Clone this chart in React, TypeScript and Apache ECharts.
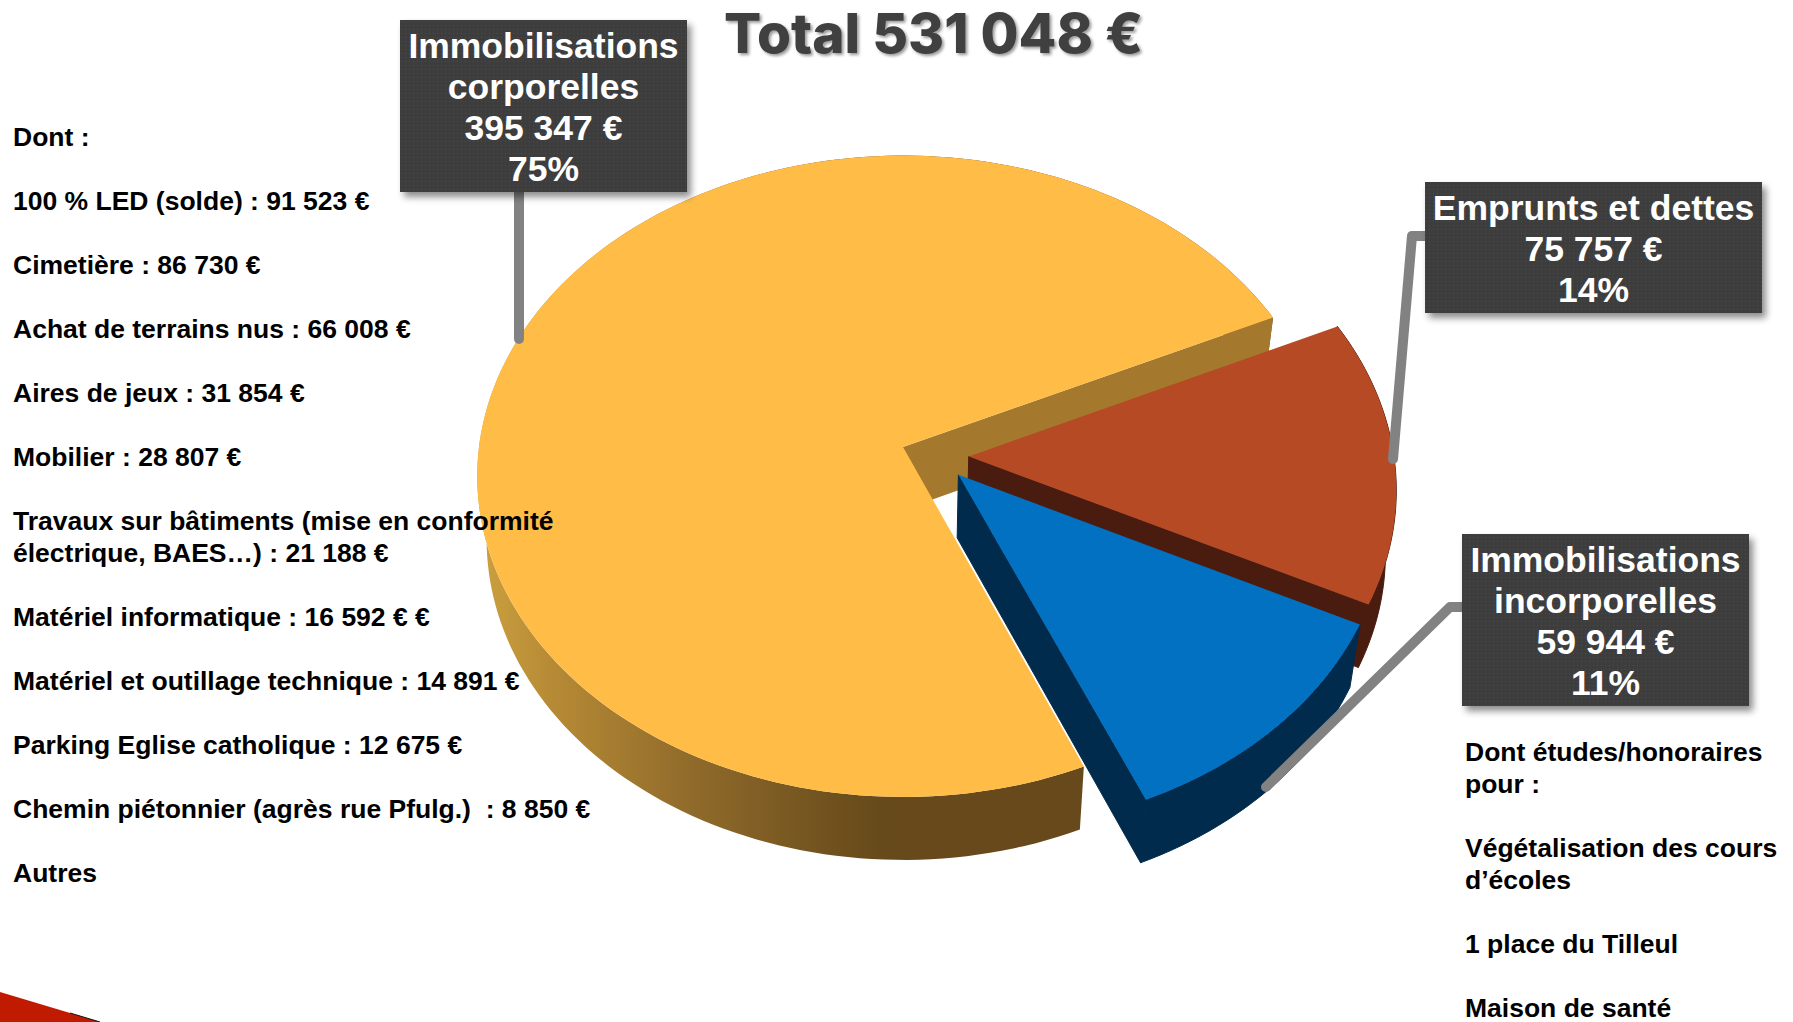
import React, { useEffect, useRef } from "react";
import * as echarts from "echarts";

const sliceNames = ["Immobilisations corporelles", "Emprunts et dettes", "Immobilisations incorporelles"];
const sliceValues = [395347, 75757, 59944];
const titleText = "Total 531 048 €";
const callout1 = ["Immobilisations", "corporelles", "395 347 €", "75%"];
const callout2 = ["Emprunts et dettes", "75 757 €", "14%"];
const callout3 = ["Immobilisations", "incorporelles", "59 944 €", "11%"];
const leftLines = [
  "Dont :", "",
  "100 % LED (solde) : 91 523 €", "",
  "Cimetière : 86 730 €", "",
  "Achat de terrains nus : 66 008 €", "",
  "Aires de jeux : 31 854 €", "",
  "Mobilier : 28 807 €", "",
  "Travaux sur bâtiments (mise en conformité",
  "électrique, BAES…) : 21 188 €", "",
  "Matériel informatique : 16 592 € €", "",
  "Matériel et outillage technique : 14 891 €", "",
  "Parking Eglise catholique : 12 675 €", "",
  "Chemin piétonnier (agrès rue Pfulg.)  : 8 850 €", "",
  "Autres",
];
const rightLines = [
  "Dont études/honoraires", "pour :", "",
  "Végétalisation des cours", "d’écoles", "",
  "1 place du Tilleul", "",
  "Maison de santé",
];

const W = 1793, H = 1022;
const CX = 903, CY = 447, A = 424, B = 318, Q = 0.0912, EXPLODE = 0.08, DEPTH = 63, SHRINK = 0.978;
const START = (67 * Math.PI) / 180;
const TOP = ["#FFBC47", "#B64A25", "#0371C1"];
const RADIAL = ["#A5792D", "#4A1B0F", "#002B4D"];
const OUTER = ["#6A4B1B", "#4A1B0F", "#002B4D"];

const total = sliceValues.reduce((a, b) => a + b, 0);
const angles: number[] = [START];
sliceValues.forEach((v, i) => angles.push(angles[i] + (v / total) * Math.PI * 2));
const firstMid = (angles[0] + angles[1]) / 2;

const project = (u: number, v: number): number[] => {
  const d = 1 - Q * v;
  return [CX + (A * u) / d, CY + (B * v) / d];
};
const lower = (p: number[]): number[] => [CX + (p[0] - CX) * SHRINK, p[1] + DEPTH];

const renderItem = (params: any) => {
  const i = params.dataIndex;
  const a0 = angles[i], a1 = angles[i + 1], mid = (a0 + a1) / 2;
  const ou = EXPLODE * (Math.cos(mid) - Math.cos(firstMid));
  const ov = EXPLODE * (Math.sin(mid) - Math.sin(firstMid));
  const apex = project(ou, ov);
  const steps = Math.max(8, Math.ceil(((a1 - a0) / (Math.PI * 2)) * 240));
  const rim: number[][] = [];
  for (let s = 0; s <= steps; s++) {
    const t = a0 + ((a1 - a0) * s) / steps;
    rim.push(project(ou + Math.cos(t), ov + Math.sin(t)));
  }
  const lowRim = rim.map(lower).reverse();
  const children: any[] = [];
  const outerFill =
    i === 0
      ? new echarts.graphic.LinearGradient(480, 0, 1090, 0, [
          { offset: 0, color: "#CBA03F" },
          { offset: 0.12, color: "#B68A35" },
          { offset: 0.35, color: "#8F6A2A" },
          { offset: 0.6, color: "#6D4F1D" },
          { offset: 0.66, color: "#674A1B" },
          { offset: 1, color: "#67491B" },
        ], true)
      : OUTER[i];
  children.push({
    type: "polygon", shape: { points: rim.concat(lowRim) },
    style: { fill: outerFill, stroke: i === 0 ? "none" : OUTER[i], lineWidth: 1 }, silent: true,
  });
  const wall = (edge: number[]) => ({
    type: "polygon",
    shape: { points: [apex, edge, lower(edge), lower(apex)] },
    style: { fill: RADIAL[i], stroke: i === 0 ? "none" : RADIAL[i], lineWidth: 1 },
    silent: true,
  });
  if (Math.cos(a0) < 0) children.push(wall(rim[0]));
  if (Math.cos(a1) > 0) children.push(wall(rim[rim.length - 1]));
  children.push({ type: "polygon", shape: { points: [apex].concat(rim) }, style: { fill: TOP[i] }, silent: true });
  return { type: "group", children };
};

const makeDots = () => {
  const c = document.createElement("canvas");
  c.width = 4; c.height = 4;
  const g = c.getContext("2d")!;
  g.fillStyle = "#3E3E3E"; g.fillRect(0, 0, 4, 4);
  g.fillStyle = "#4E4E4E"; g.fillRect(1, 1, 1, 1);
  return c.toDataURL();
};

const textLines = (lines: string[], x: number, y0: number) =>
  lines
    .map((t, i) => ({ t, i }))
    .filter((o) => o.t !== "")
    .map((o) => ({
      type: "text", z: 110, silent: true, x, y: y0 + o.i * 32,
      style: { text: o.t, fill: "#000", font: "bold 26.5px 'Liberation Sans'", textAlign: "left", textVerticalAlign: "middle" },
    }));

const box = (x: number, y: number, w: number, h: number, lines: string[], fill: any) => {
  const lh = 41;
  const startY = y + h / 2 - ((lines.length - 1) * lh) / 2 + 1.5;
  return [
    {
      type: "rect", z: 105, silent: true, shape: { x, y, width: w, height: h },
      style: { fill, shadowBlur: 7, shadowOffsetX: 4, shadowOffsetY: 5, shadowColor: "rgba(0,0,0,0.45)" },
    },
    ...lines.map((t, i) => ({
      type: "text", z: 106, silent: true, x: x + w / 2, y: startY + i * lh,
      style: { text: t, fill: "#fff", font: "bold 35.5px 'Liberation Sans'", textAlign: "center", textVerticalAlign: "middle" },
    })),
  ];
};

const leader = (pts: number[][]) => ({
  type: "polyline", z: 104, silent: true, shape: { points: pts },
  style: { stroke: "#828282", lineWidth: 10, lineCap: "round", lineJoin: "round", fill: "none" },
});

export default function App() {
  const ref = useRef<HTMLDivElement>(null);
  useEffect(() => {
    document.body.style.margin = "0";
    document.body.style.overflow = "hidden";
    const chart = echarts.init(ref.current!, undefined, { renderer: "svg" });
    const dots = { image: makeDots(), repeat: "repeat" };
    chart.setOption({
      animation: false,
      backgroundColor: "#fff",
      xAxis: { show: false },
      yAxis: { show: false },
      series: [
        {
          type: "custom",
          coordinateSystem: "none",
          renderItem,
          data: sliceValues.map((value, i) => ({ name: sliceNames[i], value })),
          silent: true,
        },
      ],
      graphic: [
        {
          type: "polygon", z: 101, silent: true,
          shape: { points: [[0, 992], [100, 1022], [0, 1022]] },
          style: { fill: "#C01A00" },
        },
        {
          type: "line", z: 102, silent: true,
          shape: { x1: 70, y1: 1013, x2: 100, y2: 1022 },
          style: { stroke: "#111", lineWidth: 1 },
        },
        {
          type: "text", z: 110, silent: true, x: 724, y: 33,
          style: {
            text: titleText, fill: "#404040", font: "800 55px Inter", textAlign: "left", textVerticalAlign: "middle",
            shadowBlur: 3, shadowOffsetX: 2, shadowOffsetY: 2, shadowColor: "rgba(0,0,0,0.4)",
            textShadowBlur: 3, textShadowOffsetX: 2, textShadowOffsetY: 2, textShadowColor: "rgba(0,0,0,0.4)",
          },
        },
        leader([[519, 190], [519, 339]]),
        leader([[1428, 236], [1412, 236], [1393, 459]]),
        leader([[1465, 607], [1450, 607], [1266, 787]]),
        ...box(400, 20, 287, 172, callout1, dots),
        ...box(1425, 182, 337, 131, callout2, dots),
        ...box(1462, 534, 287, 172, callout3, dots),
        ...textLines(leftLines, 13, 136.5),
        ...textLines(rightLines, 1465, 752),
      ],
    });
    return () => chart.dispose();
  }, []);
  return <div ref={ref} style={{ width: W, height: H }} />;
}
